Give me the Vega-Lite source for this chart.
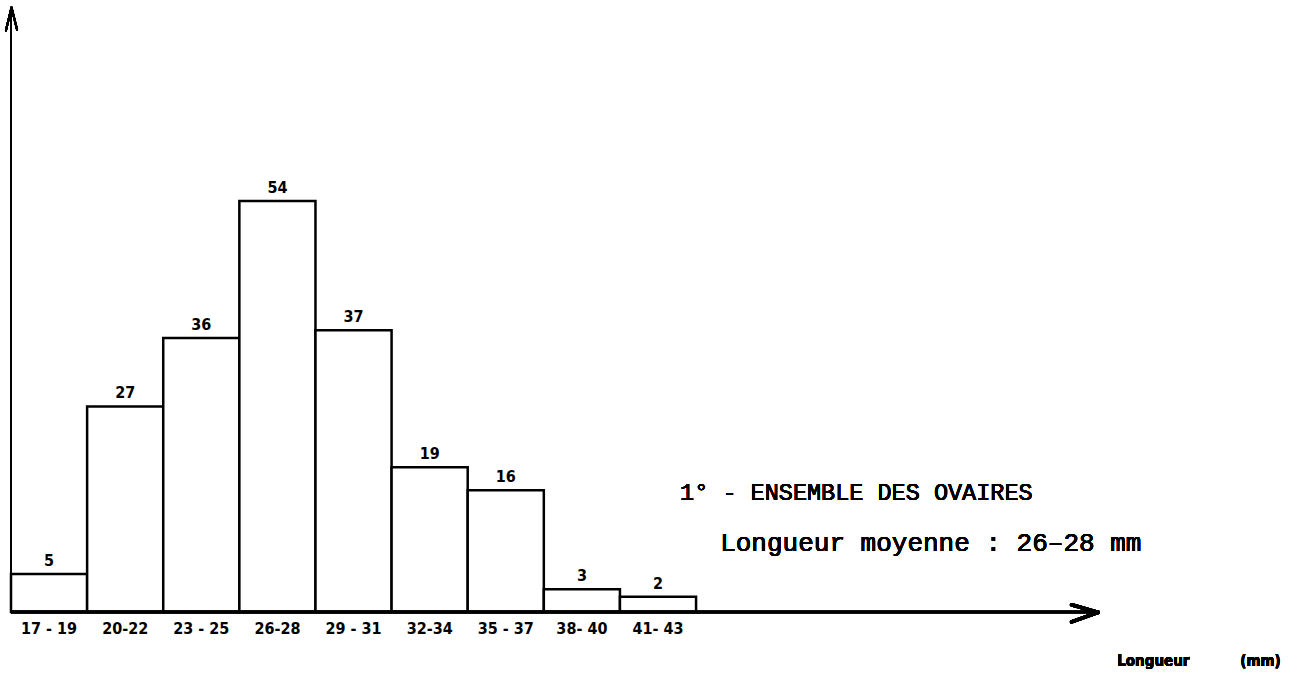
{
  "$schema": "https://vega.github.io/schema/vega-lite/v6.json",
  "width": 1294,
  "height": 609,
  "autosize": {"type": "none"},
  "padding": {"left": 11, "top": 3, "right": 9, "bottom": 65},
  "background": "white",
  "config": {"view": {"stroke": null}},
  "data": {
    "values": [
      {"classe": "17 - 19", "debut": 16.5, "fin": 19.5, "centre": 18, "effectif": 5},
      {"classe": "20-22", "debut": 19.5, "fin": 22.5, "centre": 21, "effectif": 27},
      {"classe": "23 - 25", "debut": 22.5, "fin": 25.5, "centre": 24, "effectif": 36},
      {"classe": "26-28", "debut": 25.5, "fin": 28.5, "centre": 27, "effectif": 54},
      {"classe": "29 - 31", "debut": 28.5, "fin": 31.5, "centre": 30, "effectif": 37},
      {"classe": "32-34", "debut": 31.5, "fin": 34.5, "centre": 33, "effectif": 19},
      {"classe": "35 - 37", "debut": 34.5, "fin": 37.5, "centre": 36, "effectif": 16},
      {"classe": "38- 40", "debut": 37.5, "fin": 40.5, "centre": 39, "effectif": 3},
      {"classe": "41- 43", "debut": 40.5, "fin": 43.5, "centre": 42, "effectif": 2}
    ]
  },
  "layer": [
    {
      "mark": {"type": "rect", "fill": "white", "stroke": "black", "strokeWidth": 2.5},
      "encoding": {
        "x": {"field": "debut", "type": "quantitative", "scale": {"domain": [16.5, 67.5], "nice": false, "zero": false}, "axis": null},
        "x2": {"field": "fin"},
        "y": {"field": "effectif", "type": "quantitative", "scale": {"domain": [0, 80], "nice": false}, "axis": null},
        "y2": {"datum": 0}
      }
    },
    {
      "mark": {"type": "text", "font": "Liberation Sans Narrow, DejaVu Sans Condensed, sans-serif", "fontWeight": "bold", "fontSize": 16, "baseline": "alphabetic", "dy": -8, "color": "black"},
      "encoding": {
        "x": {"field": "centre", "type": "quantitative"},
        "y": {"field": "effectif", "type": "quantitative"},
        "text": {"field": "effectif"}
      }
    },
    {
      "mark": {"type": "text", "font": "Liberation Sans Narrow, DejaVu Sans Condensed, sans-serif", "fontWeight": "bold", "fontSize": 16, "baseline": "middle", "dy": 17, "color": "black", "clip": false},
      "encoding": {
        "x": {"field": "centre", "type": "quantitative"},
        "y": {"datum": 0},
        "text": {"field": "classe"}
      }
    },
    {
      "mark": {"type": "rule", "strokeWidth": 2.5, "color": "black", "clip": false},
      "encoding": {"x": {"datum": 16.5}, "x2": {"datum": 59.35}, "y": {"datum": 0}, "y2": {"datum": 0}}
    },
    {
      "mark": {"type": "rule", "strokeWidth": 3.5, "color": "black", "strokeCap": "round", "clip": false},
      "encoding": {"x": {"datum": 58.3}, "x2": {"datum": 59.35}, "y": {"datum": 0.95}, "y2": {"datum": -0.05}}
    },
    {
      "mark": {"type": "rule", "strokeWidth": 3.5, "color": "black", "strokeCap": "round", "clip": false},
      "encoding": {"x": {"datum": 58.3}, "x2": {"datum": 59.35}, "y": {"datum": -1.3}, "y2": {"datum": -0.05}}
    },
    {
      "mark": {"type": "rule", "strokeWidth": 2, "color": "black", "clip": false},
      "encoding": {"x": {"datum": 16.5}, "x2": {"datum": 16.5}, "y": {"datum": 0}, "y2": {"datum": 79.4}}
    },
    {
      "mark": {"type": "rule", "strokeWidth": 2, "color": "black", "strokeCap": "round", "clip": false},
      "encoding": {"x": {"datum": 16.3}, "x2": {"datum": 16.52}, "y": {"datum": 76.4}, "y2": {"datum": 79.4}}
    },
    {
      "mark": {"type": "rule", "strokeWidth": 2, "color": "black", "strokeCap": "round", "clip": false},
      "encoding": {"x": {"datum": 16.74}, "x2": {"datum": 16.52}, "y": {"datum": 76.5}, "y2": {"datum": 79.4}}
    },
    {
      "mark": {"type": "text", "font": "Liberation Mono, Courier New, monospace", "fontSize": 23.5, "align": "left", "baseline": "middle", "color": "black"},
      "encoding": {"x": {"datum": 42.87}, "y": {"datum": 15.63}, "text": {"value": "1° - ENSEMBLE DES OVAIRES"}}
    },
    {
      "mark": {"type": "text", "font": "Liberation Mono, Courier New, monospace", "fontSize": 26, "align": "left", "baseline": "middle", "color": "black"},
      "encoding": {"x": {"datum": 44.45}, "y": {"datum": 9.06}, "text": {"value": "Longueur moyenne : 26–28 mm"}}
    },
    {
      "mark": {"type": "text", "font": "Liberation Sans Narrow, DejaVu Sans Condensed, sans-serif", "fontWeight": "bold", "fontSize": 15, "align": "left", "baseline": "middle", "color": "black", "clip": false},
      "encoding": {"x": {"datum": 60.1}, "y": {"datum": -6.44}, "text": {"value": "Longueur"}}
    },
    {
      "mark": {"type": "text", "font": "Liberation Sans Narrow, DejaVu Sans Condensed, sans-serif", "fontWeight": "bold", "fontSize": 15, "align": "left", "baseline": "middle", "color": "black", "clip": false},
      "encoding": {"x": {"datum": 64.95}, "y": {"datum": -6.44}, "text": {"value": "(mm)"}}
    }
  ]
}
